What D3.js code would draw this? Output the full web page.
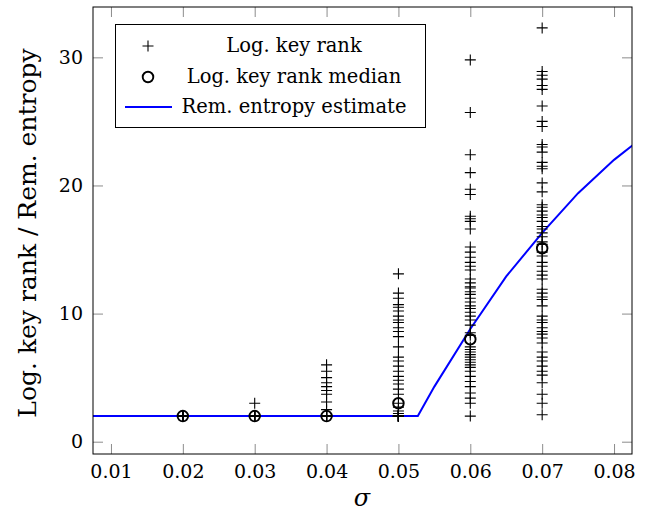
<!DOCTYPE html>
<html>
<head>
<meta charset="utf-8">
<script src="https://cdn.jsdelivr.net/npm/d3@7"></script>
<style>
  body { margin: 0; background: #fff; }
  svg { display: block; font-family: "DejaVu Serif", "Liberation Serif", serif; }
</style>
</head>
<body>
<svg></svg>
<script>
// sigma values where the key ranks were measured
var sigmas = [0.02, 0.03, 0.04, 0.05, 0.06, 0.07];

// log key rank samples, one array per sigma
var rank002 = [2, 2, 2, 2, 2, 2, 2, 2];
var rank003 = [2, 2, 2, 2, 2, 2, 2, 3];
var rank004 = [2, 2, 2, 2, 2, 2, 2, 2, 2.5, 3.1, 3.7, 4.0, 4.3, 4.6, 5.0, 5.5, 6.0];
var rank005 = [13.1, 11.6, 11.2, 10.7, 10.5, 10.2, 9.8, 9.5, 9.3, 8.9, 8.6, 8.2, 7.4, 6.6, 6.3, 5.9,
               5.5, 5.1, 4.8, 4.5, 4.1, 3.7, 3.0, 2.7, 2.4, 2.2, 2, 2, 2, 2, 2, 2, 2, 2, 2, 2, 2, 2, 2, 2];
var rank006 = [29.8, 25.7, 22.4, 21.0, 19.7, 19.3, 17.6, 17.4, 17.2, 16.6, 15.2, 14.8, 14.4, 14.0, 13.7,
               13.4, 12.7, 12.4, 12.1, 12.0, 11.7, 11.5, 11.2, 10.9, 10.6, 10.4, 10.1, 9.8, 9.5, 9.1,
               8.5, 8.3, 7.4, 7.2, 7.0, 6.8, 6.6, 6.4, 6.2, 6.0, 5.8, 5.5, 5.1, 4.7, 4.3, 3.8, 3.4, 3.0, 2.0];
var rank007 = [32.3, 28.9, 28.6, 28.3, 27.8, 27.5, 26.2, 25.0, 24.6, 23.2, 23.0, 22.6, 21.8, 21.5, 21.3,
               20.2, 19.5, 18.5, 18.3, 18.0, 17.7, 17.5, 17.2, 16.8, 16.6, 16.3, 16.0, 15.6, 15.4, 14.8,
               14.5, 14.0, 13.7, 13.3, 13.0, 12.7, 11.9, 11.6, 11.3, 11.1, 10.6, 9.8, 9.5, 9.3, 8.9,
               8.6, 8.4, 8.1, 7.7, 7.0, 6.6, 6.3, 5.9, 5.5, 5.2, 4.6, 3.7, 3.0, 2.1];
var keyRanks = [rank002, rank003, rank004, rank005, rank006, rank007];

// median of the log key rank for each sigma
var medians = [2, 2, 2, 3, 8, 15.1];

// remaining entropy estimate curve
var entropySigma = [0.005, 0.0527, 0.055, 0.06, 0.065, 0.07, 0.075, 0.08, 0.085];
var entropyValue = [2, 2, 4.3, 8.8, 12.9, 16.3, 19.4, 22.0, 24.2];

// axis ticks
var xTicks = [0.01, 0.02, 0.03, 0.04, 0.05, 0.06, 0.07, 0.08];
var yTicks = [0, 10, 20, 30];

var legendLabels = ["Log. key rank", "Log. key rank median", "Rem. entropy estimate"];

let width = 646, height = 514;
let plotLeft = 93, plotRight = 632, plotTop = 7, plotBottom = 454;

let svg = d3.select("svg")
    .attr("width", width)
    .attr("height", height);

let x = d3.scaleLinear().domain([0.0075, 0.0825]).range([plotLeft, plotRight]);
let y = d3.scaleLinear().domain([-0.96, 33.93]).range([plotBottom, plotTop]);

svg.append("clipPath").attr("id", "plotclip")
  .append("rect")
    .attr("x", plotLeft).attr("y", plotTop)
    .attr("width", plotRight - plotLeft).attr("height", plotBottom - plotTop);

// axes, ticks pointing inwards
function styleAxis(g) {
    g.attr("font-family", null).attr("font-size", null);
    g.select(".domain").remove();
    g.selectAll(".tick line").attr("stroke", "#8c8c8c").attr("stroke-width", 1);
    g.selectAll(".tick text").attr("fill", "#000").style("font-size", "19px");
}

svg.append("g")
    .attr("transform", "translate(0," + plotBottom + ")")
    .call(d3.axisBottom(x).tickValues(xTicks).tickSizeInner(-10).tickSizeOuter(0)
          .tickPadding(11).tickFormat(d3.format(".2f")))
    .call(styleAxis);

svg.append("g")
    .attr("transform", "translate(0," + plotTop + ")")
    .call(d3.axisTop(x).tickValues(xTicks).tickSizeInner(-10).tickSizeOuter(0).tickFormat(""))
    .call(styleAxis);

svg.append("g")
    .attr("transform", "translate(" + plotLeft + ",0)")
    .call(d3.axisLeft(y).tickValues(yTicks).tickSizeInner(-10).tickSizeOuter(0).tickPadding(10))
    .call(styleAxis);

svg.append("g")
    .attr("transform", "translate(" + plotRight + ",0)")
    .call(d3.axisRight(y).tickValues(yTicks).tickSizeInner(-10).tickSizeOuter(0).tickFormat(""))
    .call(styleAxis);

// entropy estimate line
let lineData = entropySigma.map((s, i) => [s, entropyValue[i]]);
svg.append("path")
    .datum(lineData)
    .attr("clip-path", "url(#plotclip)")
    .attr("fill", "none")
    .attr("stroke", "#0000ff")
    .attr("stroke-width", 2)
    .attr("d", d3.line().x(d => x(d[0])).y(d => y(d[1])));

// key rank crosses
let crossPath = "M-5.5,0H5.5M0,-5.5V5.5";
let points = [];
keyRanks.forEach((arr, i) => arr.forEach(v => points.push([sigmas[i], v])));

svg.append("g")
    .selectAll("path")
    .data(points)
    .enter()
    .append("path")
    .attr("transform", d => "translate(" + x(d[0]) + "," + y(d[1]) + ")")
    .attr("d", crossPath)
    .attr("fill", "none")
    .attr("stroke", "#000")
    .attr("stroke-width", 1.1);

// medians
svg.append("g")
    .selectAll("circle")
    .data(medians)
    .enter()
    .append("circle")
    .attr("cx", (d, i) => x(sigmas[i]))
    .attr("cy", d => y(d))
    .attr("r", 5.3)
    .attr("fill", "none")
    .attr("stroke", "#000")
    .attr("stroke-width", 1.9);

// frame
svg.append("rect")
    .attr("x", plotLeft).attr("y", plotTop)
    .attr("width", plotRight - plotLeft).attr("height", plotBottom - plotTop)
    .attr("fill", "none")
    .attr("stroke", "#000")
    .attr("stroke-width", 1);

// legend
let legend = svg.append("g");
legend.append("rect")
    .attr("x", 115.5).attr("y", 24.5)
    .attr("width", 310).attr("height", 103)
    .attr("fill", "#fff")
    .attr("stroke", "#000")
    .attr("stroke-width", 1);

legend.append("path")
    .attr("transform", "translate(148,46)")
    .attr("d", crossPath)
    .attr("stroke", "#000")
    .attr("stroke-width", 1.1);

legend.append("circle")
    .attr("cx", 148).attr("cy", 77)
    .attr("r", 5.3)
    .attr("fill", "none")
    .attr("stroke", "#000")
    .attr("stroke-width", 1.9);

legend.append("line")
    .attr("x1", 125).attr("x2", 172)
    .attr("y1", 107).attr("y2", 107)
    .attr("stroke", "#0000ff")
    .attr("stroke-width", 2);

let legendY = [51.5, 83, 113];
for (var i = 0; i < legendLabels.length; i++) {
    legend.append("text")
        .attr("x", 294)
        .attr("y", legendY[i])
        .attr("text-anchor", "middle")
        .style("font-size", "19.5px")
        .text(legendLabels[i]);
}

// axis labels
svg.append("text")
    .attr("x", 362)
    .attr("y", 506)
    .attr("text-anchor", "middle")
    .style("font-size", "24px")
    .style("font-style", "italic")
    .text("σ");

svg.append("text")
    .attr("transform", "translate(36,233) rotate(-90)")
    .attr("text-anchor", "middle")
    .style("font-size", "25px")
    .text("Log. key rank / Rem. entropy");
</script>
</body>
</html>
